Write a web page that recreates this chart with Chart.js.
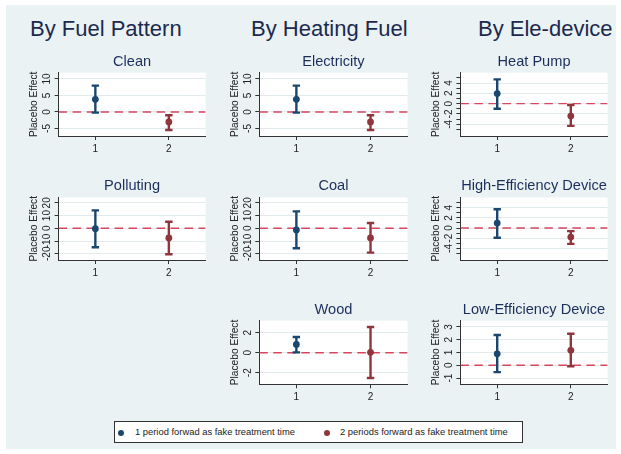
<!DOCTYPE html>
<html>
<head>
<meta charset="utf-8">
<script src="https://cdn.jsdelivr.net/npm/chart.js@4.4.1/dist/chart.umd.min.js"></script>
<style>
  html, body { margin: 0; padding: 0; background: #ffffff; }
  body { width: 621px; height: 454px; position: relative; overflow: hidden;
         font-family: "Liberation Sans", Arial, Helvetica, sans-serif; }
  #bg { position: absolute; left: 6px; top: 5px; width: 610px; height: 444px; background: #eaf2f3; }
  .head { position: absolute; top: 18px; font-size: 22px; line-height: 22px; color: #1b2a4e; white-space: nowrap; }
  canvas { position: absolute; }
  #legend { position: absolute; left: 114px; top: 421px; width: 407px; height: 20px;
            border: 1px solid #333; background: #fff; }
  .dot { position: absolute; top: 7.5px; width: 6px; height: 6px; border-radius: 50%; }
  .ltxt { position: absolute; top: 0; line-height: 20px; font-size: 9.4px; color: #222; white-space: nowrap; }
</style>
</head>
<body>
<div id="bg"></div>
<div class="head" style="left:30px">By Fuel Pattern</div>
<div class="head" style="left:251px">By Heating Fuel</div>
<div class="head" style="left:478px">By Ele-device</div>
<div id="legend">
  <span class="dot" style="left:2.7px;background:#1a476f"></span>
  <span class="ltxt" style="left:20px">1 period forwad as fake treatment time</span>
  <span class="dot" style="left:208.7px;background:#90353b"></span>
  <span class="ltxt" style="left:225px">2 periods forward as fake treatment time</span>
</div>
<script>
// Placebo periods on the x axis
const periods = [1, 2];

// Point estimates and confidence bounds, one entry per period
const cleanEst = [3.85, -3.0],   cleanLow = [-0.2, -5.45],  cleanHigh = [8.0, -1.0];
const elecEst = [3.85, -3.0],    elecLow = [-0.2, -5.45],   elecHigh = [8.0, -1.0];
const pumpEst = [1.95, -2.4],    pumpLow = [-1.0, -4.3],    pumpHigh = [4.7, -0.25];
const pollEst = [-0.3, -7.6],    pollLow = [-14.9, -20.4],  pollHigh = [14.1, 5.2];
const coalEst = [-1.3, -7.6],    coalLow = [-15.7, -19.1],  coalHigh = [13.3, 4.2];
const highEst = [0.98, -1.76],   highLow = [-1.9, -3.1],    highHigh = [3.7, -0.6];
const woodEst = [0.83, 0.04],    woodLow = [0.03, -2.53],   woodHigh = [1.57, 2.57];
const lowEst = [0.9, 1.17],      lowLow = [-0.54, -0.08],   lowHigh = [2.37, 2.47];

// Y tick labels of each panel
const ticksBy5 = [-5, 0, 5, 10];
const ticksBy2 = [-4, -2, 0, 2, 4];
const ticksBy10 = [-20, -10, 0, 10, 20];
const ticksWood = [-2, 0, 2];
const ticksLow = [-1, 0, 1, 2, 3];
// Unlabelled tick marks for the device panels
const marksBy1 = [-5, -4, -3, -2, -1, 0, 1, 2, 3, 4, 5];

const panels = [
  { title: 'Clean', est: cleanEst, low: cleanLow, high: cleanHigh, labels: ticksBy5, col: 0, row: 0, range: [-7.27, 11.9] },
  { title: 'Electricity', est: elecEst, low: elecLow, high: elecHigh, labels: ticksBy5, col: 1, row: 0, range: [-7.27, 11.9] },
  { title: 'Heat Pump', est: pumpEst, low: pumpLow, high: pumpHigh, labels: ticksBy2, marks: marksBy1, col: 2, row: 0, range: [-6.27, 6.0] },
  { title: 'Polluting', est: pollEst, low: pollLow, high: pollHigh, labels: ticksBy10, col: 0, row: 1, range: [-24.9, 24.2] },
  { title: 'Coal', est: coalEst, low: coalLow, high: coalHigh, labels: ticksBy10, col: 1, row: 1, range: [-24.9, 24.2] },
  { title: 'High-Efficiency Device', est: highEst, low: highLow, high: highHigh, labels: ticksBy2, marks: marksBy1, col: 2, row: 1, range: [-6.27, 6.0] },
  { title: 'Wood', est: woodEst, low: woodLow, high: woodHigh, labels: ticksWood, col: 1, row: 2, range: [-3.16, 3.2] },
  { title: 'Low-Efficiency Device', est: lowEst, low: lowLow, high: lowHigh, labels: ticksLow, col: 2, row: 2, range: [-1.49, 3.49] }
];

// Grid placement of the plot areas
const colAxis = [58.6, 259.3, 460.4];
const colRight = [208, 409.2, 609.6];
const rowTop = [72.7, 197.5, 320.7];
const rowBottom = [136, 260, 384.3];

const seriesColors = ['#1a476f', '#90353b'];
const FONT = '"Liberation Sans", Arial, Helvetica, sans-serif';
Chart.defaults.font.family = FONT;

const Y_AXIS_W = 29.1, X_AXIS_H = 22, TITLE_GAP = 11.2;
const TITLE_SIZE = 14.6, TITLE_LH = 1.2;

// White plot region plus rotated y tick labels
const plotStyle = {
  id: 'plotStyle',
  beforeDraw(chart) {
    const a = chart.chartArea, ctx = chart.ctx;
    ctx.save();
    ctx.fillStyle = '#ffffff';
    ctx.fillRect(a.left, a.top, a.right - a.left, a.bottom - a.top);
    ctx.restore();
  },
  afterDraw(chart, args, opts) {
    const a = chart.chartArea, ctx = chart.ctx, y = chart.scales.y;
    ctx.save();
    ctx.font = '10px ' + FONT;
    ctx.fillStyle = '#222';
    ctx.textAlign = 'center';
    ctx.textBaseline = 'middle';
    for (const v of opts.labels) {
      const py = y.getPixelForValue(v);
      ctx.setTransform(1, 0, 0, 1, a.left - 11, py);
      ctx.rotate(-Math.PI / 2);
      ctx.fillText(String(v), 0, 0);
    }
    ctx.restore();
  }
};

function makePanel(p) {
  const axisX = colAxis[p.col], right = colRight[p.col];
  const top = rowTop[p.row], bottom = rowBottom[p.row];
  const cLeft = Math.floor(axisX - 50);
  const cTop = Math.floor(top - 27);
  const cw = Math.ceil(right + 4 - cLeft);
  const ch = Math.ceil(bottom + X_AXIS_H + 1 - cTop);
  const canvas = document.createElement('canvas');
  canvas.width = cw; canvas.height = ch;
  canvas.style.left = cLeft + 'px'; canvas.style.top = cTop + 'px';
  canvas.style.width = cw + 'px'; canvas.style.height = ch + 'px';
  document.body.appendChild(canvas);

  const titleBox = top - cTop;
  const tLine = TITLE_SIZE * TITLE_LH;
  const tPadTop = titleBox - TITLE_GAP - tLine / 2;
  const tPadBottom = titleBox - tPadTop - tLine;

  const labelSet = new Set(p.labels);
  const marks = p.marks || p.labels;

  const datasets = [{
    // zero reference line
    data: [{ x: 0.5, y: 0 }, { x: 2.5, y: 0 }],
    showLine: true, borderColor: '#d4475f', borderWidth: 1.4, borderDash: [8.5, 5.5],
    pointRadius: 0, order: 3
  }];
  periods.forEach((x, i) => {
    datasets.push({
      data: [{ x: x, y: p.low[i] }, { x: x, y: p.high[i] }],
      showLine: true, borderColor: seriesColors[i], borderWidth: 2.4,
      pointStyle: 'line', pointRadius: 3.7, pointBorderWidth: 2.4,
      pointBorderColor: seriesColors[i], pointBackgroundColor: seriesColors[i], order: 2
    });
    datasets.push({
      data: [{ x: x, y: p.est[i] }],
      pointRadius: 3.4, pointBorderWidth: 0,
      pointBackgroundColor: seriesColors[i], pointBorderColor: seriesColors[i], order: 1
    });
  });

  new Chart(canvas, {
    type: 'scatter',
    data: { datasets },
    plugins: [plotStyle],
    options: {
      responsive: false, animation: false, devicePixelRatio: 1,
      events: [],
      layout: { padding: {
        left: axisX - cLeft - Y_AXIS_W, right: cLeft + cw - right,
        top: 0, bottom: cTop + ch - bottom - X_AXIS_H } },
      plugins: {
        legend: { display: false }, tooltip: { enabled: false },
        title: { display: true, text: p.title, fullSize: false, color: '#1c2e5c',
                 font: { size: TITLE_SIZE, weight: 'normal', lineHeight: TITLE_LH },
                 padding: { top: tPadTop, bottom: tPadBottom } },
        plotStyle: { labels: p.labels }
      },
      scales: {
        x: {
          type: 'linear', min: 0.5, max: 2.5,
          afterBuildTicks: s => { s.ticks = periods.map(v => ({ value: v })); },
          afterFit: s => { s.height = X_AXIS_H; },
          grid: { drawOnChartArea: false, drawTicks: true, tickLength: 4, tickColor: '#333', tickWidth: 1 },
          border: { display: true, color: '#333', width: 1 },
          ticks: { color: '#222', font: { size: 10 }, padding: 3, callback: v => String(v) }
        },
        y: {
          type: 'linear', min: p.range[0], max: p.range[1],
          afterBuildTicks: s => { s.ticks = marks.map(v => ({ value: v })); },
          afterFit: s => { s.width = Y_AXIS_W; },
          grid: {
            color: c => labelSet.has(c.tick && c.tick.value) ? '#e3eaed' : 'rgba(0,0,0,0)',
            lineWidth: 1, drawTicks: true, tickLength: 4, tickColor: '#333', tickWidth: 1
          },
          border: { display: true, color: '#333', width: 1 },
          ticks: { display: false },
          title: { display: true, text: 'Placebo Effect', color: '#222', padding: 0,
                   font: { size: 10.2, lineHeight: 1 } }
        }
      }
    }
  });
}

panels.forEach(makePanel);
</script>
</body>
</html>
